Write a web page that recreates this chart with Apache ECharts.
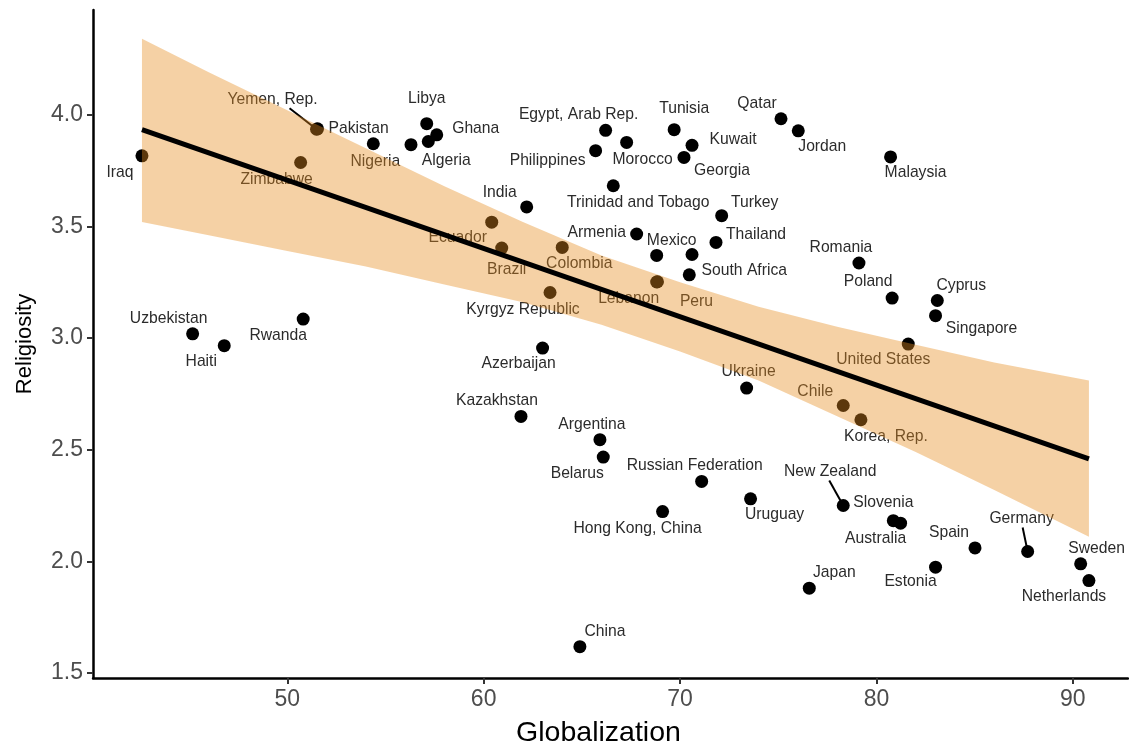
<!DOCTYPE html>
<html>
<head>
<meta charset="utf-8">
<title>Religiosity vs Globalization</title>
<script src="https://cdn.jsdelivr.net/npm/echarts@6/dist/echarts.min.js"></script>
<style>
  html, body { margin: 0; padding: 0; background: #fff; }
  #chart { width: 1129px; height: 749px; }
</style>
</head>
<body>
<div id="chart"></div>
<script>
// ---------------------------------------------------------------------------
// data

const countries = [
  'Iraq', 'Yemen, Rep.', 'Pakistan', 'Zimbabwe', 'Nigeria', '', 'Libya', 'Ghana', 'Algeria',
  'Egypt, Arab Rep.', 'Morocco', 'Philippines', 'Tunisia', 'Kuwait', 'Georgia', 'Qatar', 'Jordan',
  'Malaysia', 'Trinidad and Tobago', 'India', 'Turkey', 'Ecuador', 'Armenia', 'Thailand', 'Mexico',
  '', 'South Africa', 'Colombia', 'Brazil', 'Kyrgyz Republic', 'Lebanon', 'Peru', 'Romania',
  'Poland', 'Cyprus', 'Singapore', 'United States', 'Uzbekistan', 'Haiti', 'Rwanda', 'Azerbaijan',
  'Kazakhstan', 'Argentina', 'Belarus', 'Russian Federation', 'Hong Kong, China', 'Uruguay',
  'Ukraine', 'Chile', 'Korea, Rep.', 'New Zealand', 'Slovenia', 'Australia', 'Japan', 'Estonia',
  'Spain', 'Germany', 'Sweden', 'Netherlands', 'China'
];

const globalization = [
  42.60, 51.49, 51.54, 50.68, 54.38, 56.30, 57.10, 57.61, 57.18,
  66.21, 67.28, 65.70, 69.70, 70.61, 70.20, 75.14, 76.02,
  80.72, 66.60, 62.19, 72.12, 60.41, 67.79, 71.83, 68.81,
  70.61, 70.47, 64.00, 60.92, 63.38, 68.81, 68.85, 79.11,
  80.80, 83.10, 83.01, 81.62, 45.18, 46.79, 50.81, 63.00,
  61.90, 65.92, 66.09, 71.10, 69.11, 73.59,
  73.39, 78.31, 79.21, 78.31, 80.86, 81.23, 76.58, 83.01,
  85.02, 87.70, 90.40, 90.82, 64.90
];

const religiosity = [
  3.816, 3.935, 3.937, 3.786, 3.870, 3.866, 3.960, 3.910, 3.880,
  3.930, 3.876, 3.839, 3.933, 3.863, 3.809, 3.982, 3.928,
  3.811, 3.682, 3.587, 3.548, 3.519, 3.466, 3.428, 3.370,
  3.374, 3.283, 3.406, 3.403, 3.204, 3.251, 3.252, 3.336,
  3.179, 3.168, 3.100, 2.973, 3.019, 2.966, 3.085, 2.955,
  2.649, 2.545, 2.467, 2.358, 2.223, 2.280,
  2.776, 2.698, 2.634, 2.250, 2.182, 2.171, 1.880, 1.974,
  2.060, 2.044, 1.989, 1.914, 1.618
];

// fitted line and its confidence band
const fitX = [42.60, 90.82];
const fitY = [3.933, 2.459];
const bandX     = [42.60, 46, 50, 54, 58, 62, 66, 70, 74, 78, 82, 86, 90.82];
const bandUpper = [4.34, 4.19, 4.02, 3.85, 3.68, 3.52, 3.37, 3.25, 3.14, 3.05, 2.97, 2.89, 2.81];
const bandLower = [3.52, 3.46, 3.39, 3.32, 3.24, 3.16, 3.06, 2.94, 2.81, 2.65, 2.49, 2.32, 2.11];

const xTicks = [50, 60, 70, 80, 90];
const yTicks = [1.5, 2.0, 2.5, 3.0, 3.5, 4.0];

// ---------------------------------------------------------------------------
// label placement (pixels from the point centre), like ggrepel did it
const labelOffset = {
  'Iraq': [-22, 17], 'Yemen, Rep.': [-44, -30], 'Pakistan': [41, 0], 'Zimbabwe': [-24, 17],
  'Nigeria': [2, 18], 'Libya': [0, -25], 'Ghana': [39, -6], 'Algeria': [18, 19],
  'Egypt, Arab Rep.': [-27, -16], 'Morocco': [16, 17], 'Philippines': [-48, 10],
  'Tunisia': [10, -21], 'Kuwait': [41, -6], 'Georgia': [38, 13], 'Qatar': [-24, -15],
  'Jordan': [24, 16], 'Malaysia': [25, 16], 'Trinidad and Tobago': [25, 17], 'India': [-27, -14],
  'Turkey': [33, -13], 'Ecuador': [-34, 16], 'Armenia': [-40, -1], 'Thailand': [40, -8],
  'Mexico': [15, -15], 'South Africa': [55, -4], 'Colombia': [17, 16], 'Brazil': [5, 22],
  'Kyrgyz Republic': [-27, 17], 'Lebanon': [-28, 17], 'Peru': [39, 20], 'Romania': [-18, -15],
  'Poland': [-24, -16], 'Cyprus': [24, -15], 'Singapore': [46, 13], 'United States': [-25, 16],
  'Uzbekistan': [-24, -15], 'Haiti': [-23, 16], 'Rwanda': [-25, 17], 'Azerbaijan': [-24, 16],
  'Kazakhstan': [-24, -16], 'Argentina': [-8, -15], 'Belarus': [-26, 17],
  'Russian Federation': [-7, -16], 'Hong Kong, China': [-25, 17], 'Uruguay': [24, 16],
  'Ukraine': [2, -16], 'Chile': [-28, -14], 'Korea, Rep.': [25, 17], 'New Zealand': [-13, -34],
  'Slovenia': [-10, -18], 'Australia': [-25, 16], 'Japan': [25, -15], 'Estonia': [-25, 15],
  'Spain': [-26, -15], 'Germany': [-6, -33], 'Sweden': [16, -15], 'Netherlands': [-25, 16],
  'China': [25, -15]
};

// segments drawn from the point toward a far label
const leaderVec = {
  'Yemen, Rep.': [-27, -21],
  'New Zealand': [-14, -25],
  'Germany': [-5, -24]
};

const fontFamily = '"Liberation Sans", Arial, Helvetica, sans-serif';

// ---------------------------------------------------------------------------
let points = countries.map(function (name, i) {
  let off = labelOffset[name];
  return {
    name: name,
    value: [globalization[i], religiosity[i]],
    label: off ? { show: true, offset: off } : { show: false }
  };
});

let fitLine = fitX.map(function (x, i) { return [x, fitY[i]]; });
let band = bandX.map(function (x, i) { return [x, bandLower[i], bandUpper[i]]; });
let leaders = countries
  .map(function (name, i) { return [globalization[i], religiosity[i], name]; })
  .filter(function (d) { return leaderVec[d[2]]; });

let chart = echarts.init(document.getElementById('chart'), null, {renderer: 'canvas'});

let option = {
  animation: false,
  backgroundColor: '#fff',
  grid: { left: 93, right: 1, top: 10, bottom: 71, containLabel: false, outerBoundsMode: 'none' },
  xAxis: {
    type: 'value',
    min: 40.107,
    max: 92.81,
    name: 'Globalization',
    nameLocation: 'middle',
    nameGap: 41,
    nameTextStyle: { fontFamily: fontFamily, fontSize: 28.5, color: '#000', padding: [0, 24, 0, 0] },
    axisLine: { onZero: false, lineStyle: { color: '#000', width: 2.5 } },
    axisTick: { customValues: xTicks, length: 6, lineStyle: { color: '#333', width: 2 } },
    axisLabel: { customValues: xTicks, fontFamily: fontFamily, fontSize: 23, color: '#4d4d4d', margin: 10 },
    splitLine: { show: false }
  },
  yAxis: {
    type: 'value',
    min: 1.4776,
    max: 4.469,
    name: 'Religiosity',
    nameLocation: 'middle',
    nameRotate: 90,
    nameGap: 57,
    nameTextStyle: { fontFamily: fontFamily, fontSize: 22, color: '#000' },
    axisLine: { onZero: false, lineStyle: { color: '#000', width: 2.5 } },
    axisTick: { customValues: yTicks, length: 6, lineStyle: { color: '#333', width: 2 } },
    axisLabel: {
      customValues: yTicks, fontFamily: fontFamily, fontSize: 23, color: '#4d4d4d', margin: 10,
      formatter: function (v) { return v.toFixed(1); }
    },
    splitLine: { show: false }
  },
  series: [
    {
      // pays
      type: 'scatter',
      z: 2,
      symbolSize: 13,
      itemStyle: { color: '#000', opacity: 1 },
      label: {
        position: 'inside',
        formatter: '{b}',
        fontFamily: fontFamily,
        fontSize: 15.7,
        color: '#2b2b2b'
      },
      emphasis: { disabled: true },
      data: points
    },
    {
      // traits vers les étiquettes éloignées
      type: 'custom',
      z: 2,
      silent: true,
      data: leaders,
      renderItem: function (params, api) {
        let p = api.coord([api.value(0), api.value(1)]);
        let v = leaderVec[leaders[params.dataIndex][2]];
        return {
          type: 'line',
          shape: { x1: p[0], y1: p[1], x2: p[0] + v[0], y2: p[1] + v[1] },
          style: { stroke: '#000', lineWidth: 2 }
        };
      }
    },
    {
      // intervalle de confiance
      type: 'custom',
      z: 5,
      silent: true,
      data: [0],
      renderItem: function (params, api) {
        let top = band.map(function (d) { return api.coord([d[0], d[2]]); });
        let bottom = band.map(function (d) { return api.coord([d[0], d[1]]); }).reverse();
        return {
          type: 'polygon',
          shape: { points: top.concat(bottom) },
          style: { fill: 'rgba(230,140,30,0.4)' }
        };
      }
    },
    {
      // droite de régression
      type: 'line',
      z: 6,
      silent: true,
      showSymbol: false,
      lineStyle: { color: '#000', width: 5 },
      data: fitLine
    }
  ]
};

chart.setOption(option);
</script>
</body>
</html>
